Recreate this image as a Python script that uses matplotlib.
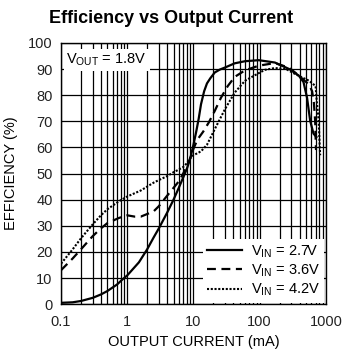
import numpy as np
import matplotlib
matplotlib.use('Agg')
import matplotlib.pyplot as plt
from matplotlib.ticker import FixedLocator, FixedFormatter, LogLocator, NullFormatter

plt.rcParams['font.family'] = ['Liberation Sans', 'DejaVu Sans']
plt.rcParams['mathtext.fontset'] = 'custom'
plt.rcParams['mathtext.rm'] = 'Liberation Sans'

# ---- data (output current in mA, efficiency in %)
i_27 = [0.1, 0.15, 0.2, 0.3, 0.4, 0.5, 0.7, 0.85, 1, 1.5, 2, 2.5, 3, 4, 5, 6, 7, 8, 9, 10,
        11, 12, 13, 14.5, 16, 18, 21, 25, 30, 42, 60, 97, 170, 280, 390, 460, 520,
        580, 650, 720]
e_27 = [0.5, 0.7, 1.2, 2.4, 3.7, 5, 7.5, 9.5, 11, 16, 21, 25.5, 29, 35, 40, 44.5, 48.5, 52, 56, 61,
        66, 71, 76.5, 81.5, 84.5, 86.5, 88.7, 89.8, 90.6, 92.2, 93, 93.4, 92.5, 90, 87.5, 85, 79,
        70.2, 65.3, 64]

i_36 = [0.1, 0.15, 0.2, 0.3, 0.4, 0.5, 0.75, 1.0, 1.3, 1.6, 2.0, 2.5, 3, 4, 5, 6, 7, 8, 9, 10,
        11.5, 14, 17, 21, 26, 33, 42, 60, 97, 170, 280, 390, 560, 620, 660, 690, 700, 710]
e_36 = [13, 17.5, 21, 26, 29, 31, 33, 34, 33.5, 33.5, 34.5, 35.5, 37.5, 41.5, 44.5, 47, 50, 53, 56, 59.5,
        63, 66, 69.5, 74, 79, 83.5, 87, 89.5, 91.3, 92.3, 90.5, 87.5, 84, 81.5, 77, 70, 64, 59]

i_42 = [0.1, 0.15, 0.2, 0.3, 0.4, 0.5, 0.75, 1.0, 1.6, 2.5, 3, 4, 5, 6, 7, 8, 9, 10, 13, 16,
        21, 30, 42, 60, 90, 120, 170, 250, 350, 560, 700, 730, 780, 800, 820]
e_42 = [15.5, 21, 25.2, 30.5, 34, 36.3, 39.4, 41.2, 43.5, 46.5, 47.5, 49, 50.5, 51.5, 52.5, 54, 56, 57, 58.5, 61,
        67, 74.7, 81, 85.5, 88, 89.7, 90.4, 90, 88, 85.5, 83.5, 77.5, 70.2, 63, 57]

x_ticks = [0.1, 1, 10, 100, 1000]
x_labels = ['0.1', '1', '10', '100', '1000']
y_ticks = list(range(0, 101, 10))

fig = plt.figure(figsize=(3.43, 3.52), dpi=100)
ax = fig.add_axes([0.178, 0.136, 0.772, 0.742])

ax.semilogx(i_27, e_27, color='black', lw=1.6, ls='-', label=r'$\mathregular{V_{IN}}$ = 2.7V', zorder=3)
ax.semilogx(i_36, e_36, color='black', lw=1.6, ls=(0, (4, 2.5)), label=r'$\mathregular{V_{IN}}$ = 3.6V', zorder=3)
ax.semilogx(i_42, e_42, color='black', lw=1.5, ls=(0, (1, 0.8)), label=r'$\mathregular{V_{IN}}$ = 4.2V', zorder=3)

ax.set_xlim(0.1, 1000)
ax.set_ylim(0, 100)
ax.xaxis.set_major_locator(FixedLocator(x_ticks))
ax.xaxis.set_major_formatter(FixedFormatter(x_labels))
ax.xaxis.set_minor_locator(LogLocator(base=10, subs=np.arange(2, 10)))
ax.xaxis.set_minor_formatter(NullFormatter())
ax.set_yticks(y_ticks)

ax.grid(True, which='major', color='black', lw=0.9)
ax.grid(True, which='minor', axis='x', color='black', lw=0.9)
ax.tick_params(which='both', length=0, labelsize=10.5, colors='#222222')
ax.tick_params(axis='x', pad=8)
ax.tick_params(axis='y', pad=6)
for s in ax.spines.values():
    s.set_linewidth(1.0)

ax.set_xlabel('OUTPUT CURRENT (mA)', fontsize=10.5, labelpad=4)
ax.set_ylabel('EFFICIENCY (%)', fontsize=10.5, labelpad=7)
fig.suptitle('Efficiency vs Output Current', x=0.5, y=0.972, fontsize=13, fontweight='bold')

ax.text(0.02, 0.965, r'$\mathregular{V_{OUT}}$ = 1.8V', transform=ax.transAxes, fontsize=10.5,
        va='top', ha='left', zorder=5,
        bbox=dict(facecolor='white', edgecolor='none', pad=2))

leg = ax.legend(loc='lower right', fontsize=10.5, frameon=True, fancybox=False,
                framealpha=1, edgecolor='none', facecolor='white', borderaxespad=0.1,
                handlelength=2.4, handletextpad=0.6, labelspacing=0.2, borderpad=0.3)
leg.set_zorder(5)

fig.savefig('out.png', dpi=100)
